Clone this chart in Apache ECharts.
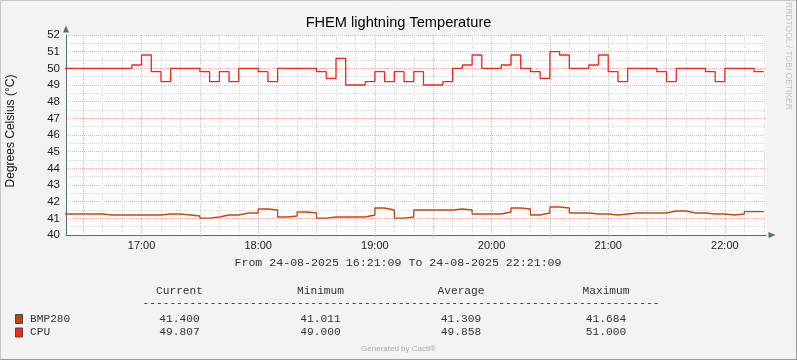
<!DOCTYPE html>
<html>
<head>
<meta charset="utf-8">
<script src="https://cdn.jsdelivr.net/npm/echarts@6.0.0/dist/echarts.min.js"></script>
<style>
html,body{margin:0;padding:0;background:#F3F3F3;}
#chart{width:797px;height:360px;}
</style>
</head>
<body>
<div id="chart"></div>
<script>
// ---- data (5-minute RRD samples, first interval starts 16:20) ----
const sampleStart = 20;          // minutes after 16:00
const sampleStep = 5;            // minutes
const viewStart = 21.15;         // 16:21:09
const viewEnd = 381.15;          // 22:21:09

const cpuTemp = [
  50.0,50.0,50.0,50.0,50.0,50.0,50.0,50.2,50.8,49.8,
  49.2,50.0,50.0,50.0,49.8,49.2,49.8,49.2,50.0,50.0,
  49.8,49.2,50.0,50.0,50.0,50.0,49.8,49.4,50.6,49.0,
  49.0,49.2,49.8,49.2,49.8,49.2,49.8,49.0,49.0,49.2,
  50.0,50.2,50.8,50.0,50.0,50.2,50.8,50.0,49.8,49.4,
  51.0,50.8,50.0,50.0,50.2,50.8,49.8,49.2,50.0,50.0,
  50.0,49.8,49.2,50.0,50.0,50.0,49.8,49.2,50.0,50.0,
  50.0,49.8
];
const bmp280Temp = [
  41.26,41.26,41.26,41.26,41.20,41.20,41.20,41.20,41.20,41.20,
  41.26,41.26,41.20,41.14,41.01,41.08,41.20,41.20,41.32,41.32,
  41.56,41.50,41.08,41.14,41.38,41.32,41.01,41.08,41.08,41.08,
  41.08,41.20,41.62,41.50,41.01,41.08,41.50,41.50,41.50,41.50,
  41.56,41.50,41.26,41.26,41.26,41.38,41.62,41.56,41.20,41.32,
  41.68,41.62,41.32,41.32,41.26,41.26,41.20,41.26,41.32,41.32,
  41.32,41.32,41.44,41.44,41.32,41.32,41.26,41.26,41.20,41.26,
  41.40,41.40
];

const yTicks = [40,41,42,43,44,45,46,47,48,49,50,51,52];
const xLabelMinutes = [60,120,180,240,300,360];
const xLabelTexts = ['17:00','18:00','19:00','20:00','21:00','22:00'];
const majorGridMinutes = [30,60,90,120,150,180,210,240,270,300,330,360];
const minorGridMinutes = [40,50,70,80,100,110,130,140,160,170,190,200,220,230,250,260,280,290,310,320,340,350,370,380];

const legendHeaders = ['Current','Minimum','Average','Maximum'];
const legendNames = ['BMP280','CPU'];
const legendStats = [
  ['41.400','41.011','41.309','41.684'],
  ['49.807','49.000','49.858','51.000']
];
const seriesColors = ['#C4480C','#F0261E'];
const legendBoxColors = ['#C04408','#FF2418'];

const titleText = 'FHEM lightning Temperature';
const yAxisTitle = 'Degrees Celsius (°C)';
const rangeText = 'From 24-08-2025 16:21:09 To 24-08-2025 22:21:09';

// ---- build ----
function toSeries(vals){
  const d = vals.map((v,i)=>[sampleStart + i*sampleStep, v]);
  d.push([sampleStart + vals.length*sampleStep, vals[vals.length-1]]);
  return d;
}

const chart = echarts.init(document.getElementById('chart'), null, {renderer:'canvas'});

const sans = "'Liberation Sans', Arial, sans-serif";
const mono = "'Liberation Mono', 'Courier New', monospace";
const colX = [179.5, 320.5, 461, 606];

const graphics = [
  {type:'rect', shape:{x:0.5,y:0.5,width:796,height:359}, style:{fill:'none', stroke:'#c8c8c8', lineWidth:1}, silent:true},
  {type:'line', shape:{x1:0,y1:359.5,x2:797,y2:359.5}, style:{stroke:'#9a9a9a', lineWidth:1}, silent:true},
  {type:'line', shape:{x1:796.5,y1:0,x2:796.5,y2:360}, style:{stroke:'#9a9a9a', lineWidth:1}, silent:true},
  {type:'text', x:398.5, y:23, style:{text:titleText, font:'14.6px '+sans, fill:'#000', textAlign:'center', textVerticalAlign:'middle'}},
  {type:'text', x:11, y:131, rotation:Math.PI/2, style:{text:yAxisTitle, font:'12px '+sans, fill:'#111', textAlign:'center', textVerticalAlign:'middle'}},
  {type:'text', x:788, y:56, rotation:-Math.PI/2, style:{text:'RRDTOOL / TOBI OETIKER', font:'8.5px '+sans, fill:'#c2c2c2', textAlign:'center', textVerticalAlign:'middle'}},
  {type:'text', x:398, y:263, style:{text:rangeText, font:'11.6px '+mono, fill:'#333', textAlign:'center', textVerticalAlign:'middle'}},
  {type:'text', x:401, y:303, style:{text:'-'.repeat(77), font:'11.2px '+mono, fill:'#333', textAlign:'center', textVerticalAlign:'middle'}},
  {type:'text', x:398.5, y:349, style:{text:'Generated by Cacti®', font:'8px '+sans, fill:'#ababab', textAlign:'center', textVerticalAlign:'middle'}}
];
legendHeaders.forEach((h,i)=>{
  graphics.push({type:'text', x:colX[i], y:291, style:{text:h, font:'11.2px '+mono, fill:'#333', textAlign:'center', textVerticalAlign:'middle'}});
});
legendNames.forEach((n,r)=>{
  const y = 319 + r*13.5;
  graphics.push({type:'rect', shape:{x:15.5,y:y-4.5,width:7,height:9}, style:{fill:legendBoxColors[r], stroke:'#3d4f4b', lineWidth:1}});
  graphics.push({type:'text', x:30, y:y, style:{text:n, font:'11.2px '+mono, fill:'#333', textAlign:'left', textVerticalAlign:'middle'}});
  legendStats[r].forEach((s,i)=>{
    graphics.push({type:'text', x:colX[i], y:y, style:{text:s, font:'11.2px '+mono, fill:'#333', textAlign:'center', textVerticalAlign:'middle'}});
  });
});

const redGrid = {color:'#f0b0b0', width:1, type:[1,1]};
const grayGrid = {color:'#d6d6d6', width:1, type:[1,1]};
const axisColor = '#566f6a';

chart.setOption({
  animation:false,
  backgroundColor:'#F3F3F3',
  grid:{left:66, top:35, width:700, height:200, show:true, backgroundColor:'#ffffff', borderWidth:0, containLabel:false},
  xAxis:[
    {
      type:'value', min:viewStart, max:viewEnd, position:'bottom',
      axisLine:{show:true, onZero:false, lineStyle:{color:axisColor, width:1}, symbol:['none','triangle'], symbolSize:[6,7], symbolOffset:[0,6]},
      axisTick:{show:true, customValues:majorGridMinutes, length:2, lineStyle:{color:'#e39a9a'}},
      splitLine:{show:true, customValues:majorGridMinutes, lineStyle:redGrid},
      axisLabel:{show:true, customValues:xLabelMinutes, margin:5, color:'#1a1a1a', fontSize:11, fontFamily:sans,
        formatter:function(v){ const i = xLabelMinutes.indexOf(Math.round(v)); return i>=0 ? xLabelTexts[i] : ''; }}
    },
    {
      type:'value', min:viewStart, max:viewEnd, position:'bottom',
      axisLine:{show:false}, axisLabel:{show:false},
      axisTick:{show:false, customValues:minorGridMinutes},
      splitLine:{show:true, customValues:minorGridMinutes, lineStyle:grayGrid}
    }
  ],
  yAxis:{
    type:'value', min:yTicks[0], max:yTicks[yTicks.length-1], interval:1,
    axisLine:{show:true, onZero:false, lineStyle:{color:axisColor, width:1}, symbol:['none','triangle'], symbolSize:[6,7], symbolOffset:[0,6]},
    axisTick:{show:false},
    axisLabel:{color:'#1a1a1a', fontSize:11.5, fontFamily:sans, margin:6},
    splitLine:{show:true, lineStyle:redGrid},
    minorTick:{show:false, splitNumber:2},
    minorSplitLine:{show:true, lineStyle:grayGrid}
  },
  series:[
    {name:'BMP280', type:'line', step:'end', xAxisIndex:0, data:toSeries(bmp280Temp), showSymbol:false, symbol:'none',
      lineStyle:{color:seriesColors[0], width:1.3}, itemStyle:{color:seriesColors[0]}, z:3, clip:true},
    {name:'CPU', type:'line', step:'end', xAxisIndex:0, data:toSeries(cpuTemp), showSymbol:false, symbol:'none',
      lineStyle:{color:seriesColors[1], width:1.3}, itemStyle:{color:seriesColors[1]}, z:4, clip:true}
  ],
  graphic:{elements:graphics}
});
</script>
</body>
</html>
